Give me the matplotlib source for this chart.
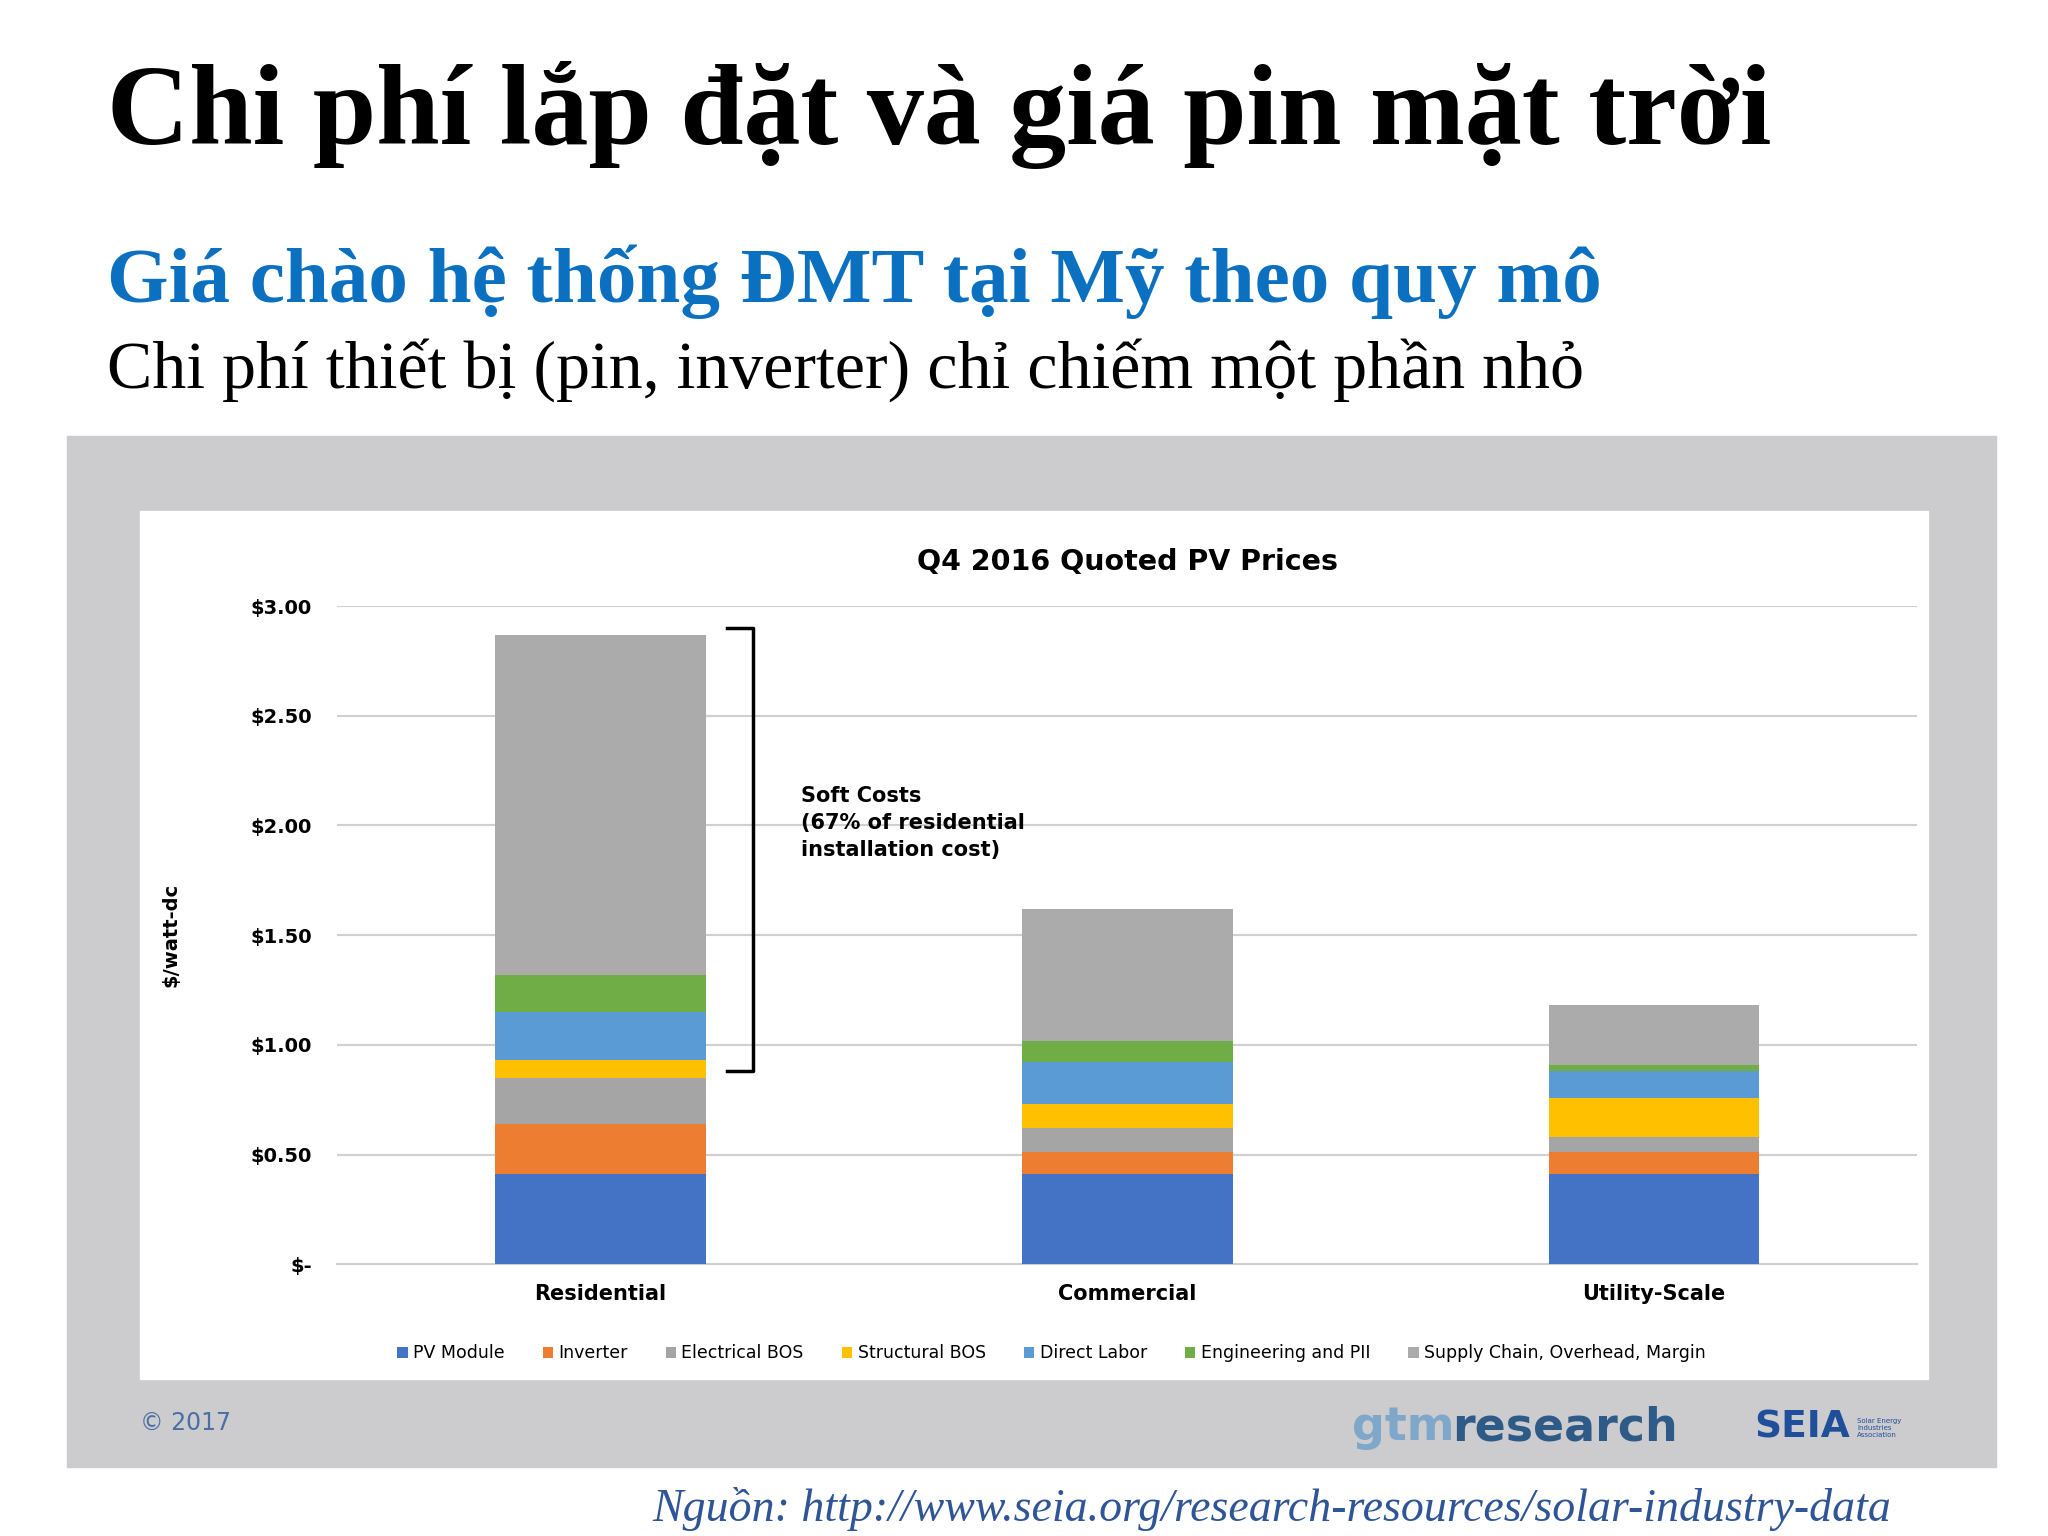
import matplotlib
matplotlib.use("Agg")
import matplotlib.pyplot as plt
import numpy as np

categories = ["Residential", "Commercial", "Utility-Scale"]
components = ["PV Module", "Inverter", "Electrical BOS", "Structural BOS", "Direct Labor",
              "Engineering and PII", "Supply Chain, Overhead, Margin"]
values = {
    "PV Module": [0.41, 0.41, 0.41],
    "Inverter": [0.23, 0.10, 0.10],
    "Electrical BOS": [0.21, 0.11, 0.07],
    "Structural BOS": [0.08, 0.11, 0.18],
    "Direct Labor": [0.22, 0.19, 0.12],
    "Engineering and PII": [0.17, 0.10, 0.03],
    "Supply Chain, Overhead, Margin": [1.55, 0.60, 0.27],
}
colors = ["#4472C4", "#ED7D31", "#A5A5A5", "#FFC000", "#5B9BD5", "#70AD47", "#ABABAB"]
yticks = [0, 0.5, 1.0, 1.5, 2.0, 2.5, 3.0]
ytick_labels = ["$-", "$0.50", "$1.00", "$1.50", "$2.00", "$2.50", "$3.00"]

W, H = 1568, 1176
fig = plt.figure(figsize=(20.48, 15.36), dpi=100)
def rect(x0, y0, x1, y1):
    return [x0 / W, 1 - y1 / H, (x1 - x0) / W, (y1 - y0) / H]

fig.patches.append(matplotlib.patches.Rectangle((51 / W, 1 - 1123 / H), (1528 - 51) / W, (1123 - 334) / H,
                   transform=fig.transFigure, color="#CCCBCE", zorder=0))
fig.patches.append(matplotlib.patches.Rectangle((107 / W, 1 - 1056 / H), (1476 - 107) / W, (1056 - 391) / H,
                   transform=fig.transFigure, color="white", zorder=1))

fig.text(82 / W, 1 - 88 / H, "Chi phí lắp đặt và giá pin mặt trời", family="Liberation Serif",
         weight="bold", fontsize=82, va="center", ha="left")
fig.text(82 / W, 1 - 216 / H, "Giá chào hệ thống ĐMT tại Mỹ theo quy mô", family="Liberation Serif",
         weight="bold", fontsize=57, color="#0B70C0", va="center", ha="left")
fig.text(82 / W, 1 - 283 / H, "Chi phí thiết bị (pin, inverter) chỉ chiếm một phần nhỏ", family="Liberation Serif",
         fontsize=49, va="center", ha="left")
fig.text(1448 / W, 1 - 1155 / H, "Nguồn: http://www.seia.org/research-resources/solar-industry-data",
         family="Liberation Serif", style="italic", fontsize=33, color="#2F5597", va="center", ha="right")

ax = fig.add_axes(rect(258, 464, 1468, 968))
ax.set_zorder(2)
x = np.arange(len(categories))
bottom = np.zeros(len(categories))
for comp, c in zip(components, colors):
    v = np.array(values[comp])
    ax.bar(x, v, 0.4, bottom=bottom, color=c, label=comp, zorder=3)
    bottom += v
ax.set_xlim(-0.5, 2.5)
ax.set_ylim(0, 3.0)
ax.set_yticks(yticks)
ax.set_yticklabels(ytick_labels, fontsize=14, weight="bold")
ax.set_xticks(x)
ax.set_xticklabels(categories, fontsize=15, weight="bold")
ax.tick_params(length=0, pad=18)
ax.tick_params(axis="x", pad=14)
ax.grid(axis="y", color="#D0D0D0", lw=1.5, zorder=0)
for s in ["top", "right", "left"]:
    ax.spines[s].set_visible(False)
ax.spines["bottom"].set_color("#D0D0D0")
ax.spines["bottom"].set_linewidth(1.5)
ax.set_ylabel("$/watt-dc", fontsize=14, weight="bold", labelpad=50)
ax.set_title("Q4 2016 Quoted PV Prices", fontsize=20.5, weight="bold", pad=26)

bx0, bx1 = 0.24, 0.29
ax.plot([bx0, bx1, bx1, bx0], [2.9, 2.9, 0.88, 0.88], color="black", lw=2.5, zorder=4, clip_on=False)
ax.text(0.38, 2.18, "Soft Costs\n(67% of residential\ninstallation cost)", fontsize=15, weight="bold",
        va="top", ha="left", linespacing=1.45)

leg = fig.legend(loc="center", bbox_to_anchor=(805 / W, 1 - 1036 / H), ncol=7, frameon=False,
                 fontsize=12.5, handlelength=0.6, handleheight=0.6, columnspacing=2.2, handletextpad=0.3)
leg.set_zorder(3)

fig.text(107 / W, 1 - 1089 / H, "© 2017", fontsize=17, color="#4A6FA5", va="center", zorder=3)
fig.text(1035 / W, 1 - 1093 / H, "gtm", fontsize=33, color="#7FA7C9", va="center", zorder=3, weight="bold")
fig.text(1112 / W, 1 - 1093 / H, "research", fontsize=33, color="#2E5A87", va="center", zorder=3, weight="bold")
fig.text(1343 / W, 1 - 1093 / H, "SEIA", fontsize=27, color="#1F4E9A", va="center", zorder=3, weight="bold")
fig.text(1422 / W, 1 - 1093 / H, "Solar Energy\nIndustries\nAssociation", fontsize=5, color="#1F4E9A",
         va="center", zorder=3)

fig.savefig("out.png", dpi=100)
